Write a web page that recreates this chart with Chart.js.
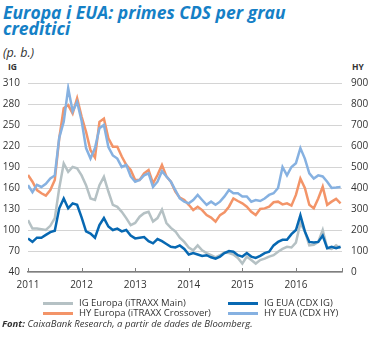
<!DOCTYPE html>
<html>
<head>
<meta charset="utf-8">
<script src="https://cdn.jsdelivr.net/npm/chart.js@4"></script>
<style>
  body { margin: 0; width: 374px; height: 338px; position: relative; overflow: hidden; background: #fff;
         font-family: 'Liberation Sans Narrow', 'Open Sans', sans-serif; color: #333; }
  #grafic { position: absolute; left: 0; top: 0; }
  #titol { position: absolute; left: 3px; top: 5px; color: #1580c6; font-weight: bold; font-style: italic;
           font-size: 17.5px; line-height: 15.5px; }
  #unitats { position: absolute; left: 3px; top: 44px; font-style: italic; font-size: 12.5px; }
  .eix { position: absolute; top: 61px; font-weight: bold; font-size: 8.5px; }
  #llegenda { position: absolute; top: 297px; left: 0; font-size: 9.5px; }
  .item { position: absolute; white-space: nowrap; height: 11px; line-height: 11px; }
  .item span { display: inline-block; width: 30px; height: 3px; vertical-align: middle; margin-right: 6px; }
  #font { position: absolute; left: 2px; top: 317px; font-size: 9.5px; font-style: italic; white-space: nowrap; }
</style>
</head>
<body>
<div id="titol">Europa i EUA: primes CDS per grau<br>creditici</div>
<div id="unitats">(p. b.)</div>
<div class="eix" style="left:8px">IG</div>
<div class="eix" style="left:352px">HY</div>
<canvas id="grafic" width="374" height="338"></canvas>
<div id="llegenda"></div>
<div id="font"><b>Font:</b> CaixaBank Research, a partir de dades de Bloomberg.</div>
<script>
// sèries mensuals, gener 2011 - novembre 2016
const anyInicial = 2011;
const anysEix = [2011, 2012, 2013, 2014, 2015, 2016];
const igEuropa = [114, 102, 102, 101, 100, 106, 117, 160, 195, 183, 190, 188, 178,
  164, 145, 143, 164, 176, 155, 136, 133, 126, 117, 107, 110,
  119, 124, 126, 112, 117, 129, 110, 103, 98, 89, 83, 75,
  71, 78, 71, 67, 64, 61, 64, 68, 67, 65, 60, 52,
  62, 57, 52, 57, 59, 62, 64, 69, 73, 76, 75, 82,
  110, 98, 78, 79, 83, 100, 74, 73, 78, 74];
const igEua = [88, 83, 89, 89, 93, 97, 99, 131, 145, 131, 138, 136, 118,
  98, 95, 89, 107, 117, 105, 100, 102, 98, 100, 92, 88,
  89, 90, 84, 81, 87, 84, 80, 76, 75, 78, 73, 65,
  67, 65, 63, 64, 61, 59, 62, 67, 70, 69, 64, 62,
  67, 62, 60, 63, 67, 69, 78, 83, 86, 86, 94, 100,
  121, 98, 83, 82, 83, 92, 74, 76, 74, 76];
const hyEuropa = [462, 430, 390, 375, 364, 390, 438, 637, 780, 795, 755, 827, 740,
  668, 580, 545, 715, 730, 637, 597, 597, 550, 510, 486, 438,
  438, 470, 486, 422, 462, 510, 455, 430, 383, 354, 343, 320,
  295, 311, 295, 271, 259, 240, 271, 284, 311, 350, 338, 327,
  311, 287, 271, 300, 303, 311, 332, 335, 322, 327, 316, 367,
  445, 400, 320, 303, 350, 406, 320, 335, 348, 327];
const hyEua = [414, 380, 415, 405, 420, 445, 460, 640, 715, 875, 765, 810, 720,
  590, 540, 590, 685, 700, 595, 555, 540, 500, 510, 455, 430,
  438, 460, 470, 405, 430, 480, 455, 430, 390, 350, 335, 327,
  343, 367, 343, 320, 335, 320, 335, 360, 390, 375, 375, 360,
  360, 335, 343, 338, 350, 367, 375, 400, 500, 460, 500, 518,
  590, 540, 470, 445, 460, 455, 430, 400, 402, 405];

const series = [
  { nom: 'IG Europa (iTRAXX Main)', dades: igEuropa, color: '#b5c1c4', eix: 'yIG', ordre: 3 },
  { nom: 'HY Europa (iTRAXX Crossover)', dades: hyEuropa, color: '#f39468', eix: 'yHY', ordre: 2 },
  { nom: 'IG EUA (CDX IG)', dades: igEua, color: '#0768b2', eix: 'yIG', ordre: 1 },
  { nom: 'HY EUA (CDX HY)', dades: hyEua, color: '#86b1e1', eix: 'yHY', ordre: 0 }
];

const marquesAny = {
  id: 'marquesAny',
  afterDraw(chart) {
    const { ctx, chartArea, scales } = chart;
    const x = scales.x;
    ctx.save();
    ctx.strokeStyle = '#808080';
    ctx.lineWidth = 1;
    const posicions = x.ticks.map(t => x.getPixelForValue(t.value)).concat([chartArea.right]);
    posicions.forEach(p => {
      const px = Math.round(p) + 0.5;
      ctx.beginPath();
      ctx.moveTo(px, chartArea.bottom);
      ctx.lineTo(px, chartArea.bottom - 4);
      ctx.stroke();
    });
    ctx.restore();
  }
};

const lletra = "'Liberation Sans Narrow', 'Open Sans', sans-serif";

new Chart(document.getElementById('grafic'), {
  type: 'line',
  data: {
    datasets: series.map(s => ({
      label: s.nom,
      data: s.dades.map((v, i) => ({ x: anyInicial + i / 12, y: v })),
      borderColor: s.color,
      borderWidth: 2.5,
      pointRadius: 0,
      tension: 0,
      yAxisID: s.eix,
      order: s.ordre
    }))
  },
  options: {
    responsive: false,
    animation: false,
    layout: { padding: { top: 83, bottom: 46, left: 0, right: 0 } },
    plugins: { legend: { display: false }, tooltip: { enabled: false } },
    scales: {
      x: {
        type: 'linear',
        min: 2011,
        max: 2016.86,
        afterBuildTicks: s => { s.ticks = anysEix.map(v => ({ value: v })); },
        afterFit: s => { s.height = 20; },
        ticks: { padding: 7, color: '#333', font: { family: lletra, size: 10 }, callback: v => String(v) },
        grid: { display: false, drawTicks: false },
        border: { display: true, color: '#7f7f7f', width: 1.5 }
      },
      yIG: {
        position: 'left',
        min: 40,
        max: 310,
        afterFit: s => { s.width = 28; },
        ticks: { stepSize: 30, padding: 8, color: '#333', font: { family: lletra, size: 10 } },
        grid: { color: '#d4d4d4', lineWidth: 1, drawTicks: false },
        border: { display: false }
      },
      yHY: {
        position: 'right',
        min: 0,
        max: 900,
        afterFit: s => { s.width = 32; },
        ticks: { stepSize: 100, padding: 9, color: '#333', font: { family: lletra, size: 10 } },
        grid: { display: false, drawTicks: false },
        border: { display: false }
      }
    }
  },
  plugins: [marquesAny]
});

// llegenda en dues columnes
const llegenda = document.getElementById('llegenda');
const llocs = [[43, 0], [43, 10], [228, 0], [228, 10]];
series.forEach((s, j) => {
  const el = document.createElement('div');
  el.className = 'item';
  el.style.left = llocs[j][0] + 'px';
  el.style.top = llocs[j][1] + 'px';
  el.innerHTML = '<span style="background:' + s.color + '"></span>' + s.nom;
  llegenda.appendChild(el);
});
</script>
</body>
</html>
